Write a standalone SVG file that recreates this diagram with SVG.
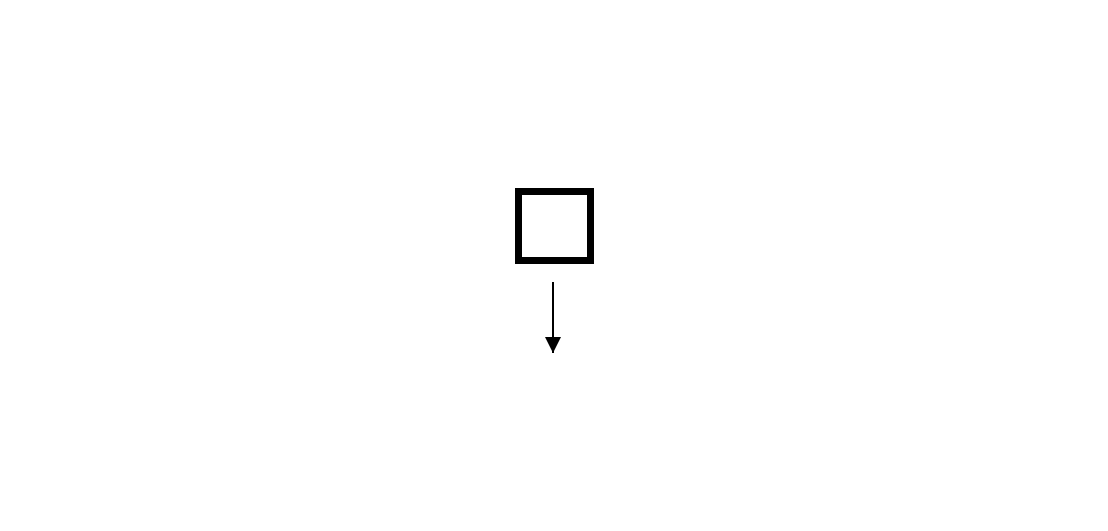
<svg xmlns="http://www.w3.org/2000/svg" width="1108" height="531" viewBox="0 0 1108 531">
  <style>
    .box { fill: #ffffff; stroke: #000000; stroke-width: 7; }
    .conn { stroke: #000000; stroke-width: 2; fill: none; }
  </style>
  <defs>
    <marker id="arrow" markerWidth="8" markerHeight="8" refX="8" refY="4" orient="auto" markerUnits="strokeWidth">
      <path d="M0,0 L8,4 L0,8 Z" fill="#000000"/>
    </marker>
  </defs>
  <rect width="1108" height="531" fill="#ffffff"/>
  <g id="node-box">
    <rect class="box" x="518.5" y="191.5" width="72" height="69"/>
  </g>
  <g id="connectors">
    <line class="conn" x1="553" y1="282" x2="553" y2="353" marker-end="url(#arrow)"/>
  </g>
</svg>
